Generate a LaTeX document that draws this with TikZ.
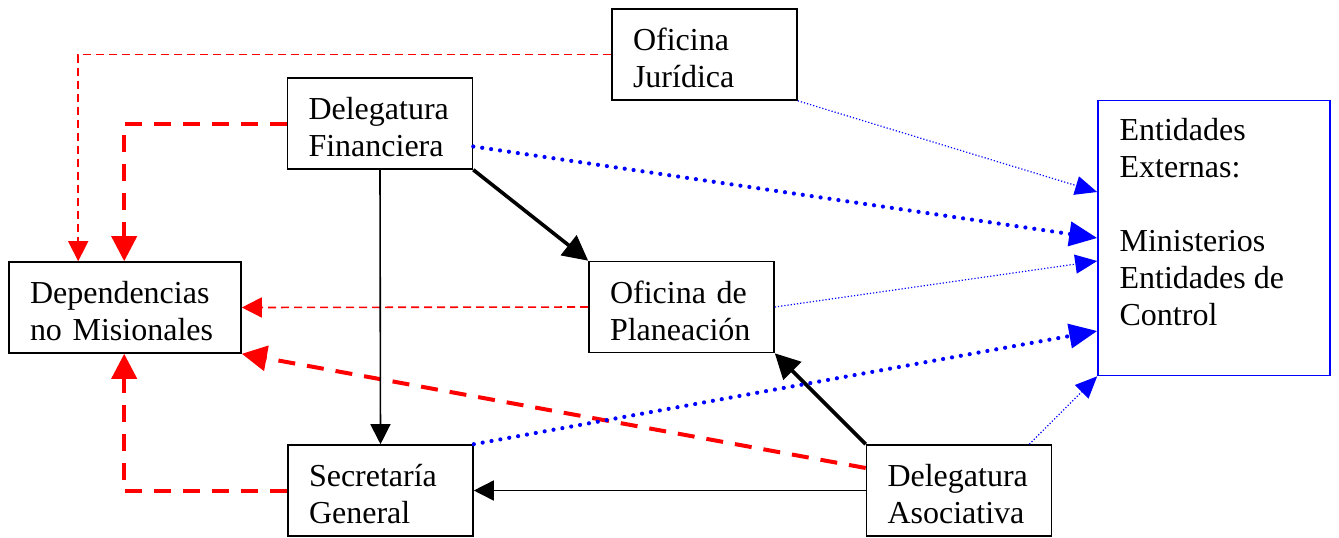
\documentclass[tikz,border=0pt]{standalone}
\usepackage{fontspec}
\setmainfont{Liberation Serif}
\usetikzlibrary{arrows.meta}
\definecolor{dr}{rgb}{1, 0, 0}
\definecolor{db}{rgb}{0, 0, 1}
\newcommand{\letra}{\fontsize{16pt}{18.5pt}\selectfont}

\begin{document}
\begin{tikzpicture}[x=0.5pt,y=-0.5pt,%
    caja/.style={draw,line width=0.8pt,minimum height=45.5pt,inner xsep=10.5pt,
      align=left,font=\letra,execute at begin node={\rule{0pt}{15pt}}},%
    cajac/.style={caja,text width=71.5pt},%
    cajal/.style={caja,text width=95pt},%
    rojo/.style={dr,line width=0.8pt,dash pattern=on 4pt off 2.5pt,
      -{Triangle[length=10pt,width=10pt]}},%
    rojog/.style={dr,line width=2pt,dash pattern=on 8.5pt off 6pt,
      -{Triangle[length=12.5pt,width=12.5pt]}},%
    azul/.style={db,line width=0.6pt,dash pattern=on 0.6pt off 1pt,
      -{Triangle[length=11pt,width=9.5pt]}},%
    azulg/.style={db,line width=2.1pt,line cap=round,dash pattern=on 0pt off 4.5pt,
      -{Triangle[length=14pt,width=12pt]}},%
    negro/.style={line width=0.8pt,-{Triangle[length=10pt,width=10pt]}},%
    negrog/.style={line width=1.8pt,-{Triangle[length=12.5pt,width=12.5pt]}}]%
  \useasboundingbox (0,0) rectangle (1339,537);

  % cajas
  \node [cajac] (oj)  at (704.5,54.5) {Oficina\\Jurídica};
  \node [cajac] (df)  at (380,123.5)  {Delegatura\\Financiera};
  \node [cajal] (dep) at (125,307.5)  {Dependencias\\no Misionales};
  \node [cajac] (op)  at (681.5,307)  {Oficina de\\Planeación};
  \node [cajac] (sg)  at (380.5,490.5) {Secretaría\\General};
  \node [cajac] (da)  at (959,490.5)  {Delegatura\\Asociativa};
  \node [draw=db,line width=0.8pt,minimum width=116pt,minimum height=137.5pt]
    (ent) at (1214,238) {};
  \node [anchor=north west,align=left,inner sep=0pt,font=\letra] (enttxt)
    at ([xshift=11pt,yshift=-9pt]ent.north west)
    {Entidades\\Externas:\\[18.5pt]Ministerios\\Entidades de\\Control};

  % relaciones
  \draw [rojo]  (oj.west) -| ([xshift=35pt]dep.north west);
  \draw [rojog] (df.west) -| ([xshift=58pt]dep.north west);
  \draw [rojo]  (op.west) -- (dep.east);
  \draw [rojog] (sg.west) -| ([xshift=58pt]dep.south west);
  \draw [rojog] ([yshift=11.25pt]da.west) -- (dep.south east);

  \draw [negro]  (df.south) -- (sg.north);
  \draw [negrog] (df.south east) -- (op.north west);
  \draw [negro]  (da.west) -- (sg.east);
  \draw [negrog] (da.north west) -- (op.south east);

  \draw [azul]  (oj.south east) -- ([yshift=23pt]ent.west);
  \draw [azulg] ([yshift=-11.5pt]df.east) -- (ent.west);
  \draw [azul]  (op.east) -- ([yshift=-11.5pt]ent.west);
  \draw [azulg] (sg.north east) -- ([yshift=-46.5pt]ent.west);
  \draw [azul]  ([xshift=-11.5pt]da.north east) -- (ent.south west);
\end{tikzpicture}
\end{document}
